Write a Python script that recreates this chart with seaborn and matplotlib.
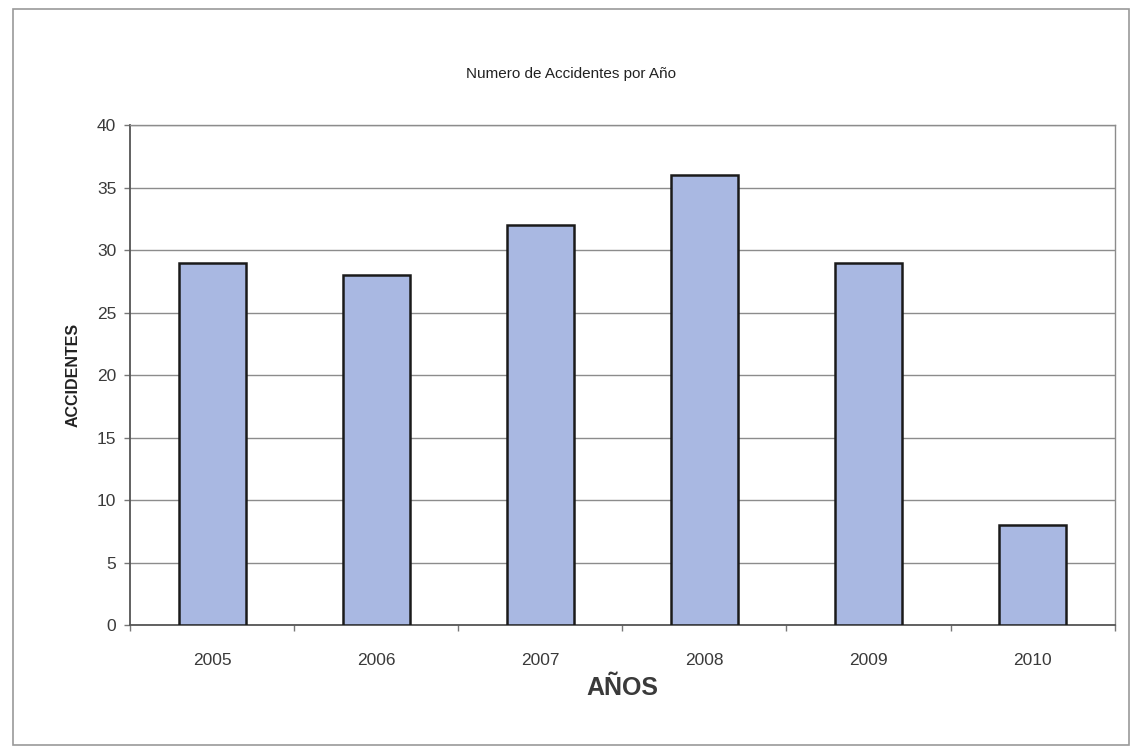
import pandas as pd
import seaborn as sns
import matplotlib.pyplot as plt
from matplotlib.patches import Rectangle

# Data
years = ['2005', '2006', '2007', '2008', '2009', '2010']
accidents = [29, 28, 32, 36, 29, 8]

df = pd.DataFrame({'year': years, 'accidents': accidents})

sns.set_style("white")
plt.rcParams['font.family'] = ['Liberation Sans', 'DejaVu Sans']

fig = plt.figure(figsize=(11.42, 7.54), dpi=100)
ax = fig.add_axes([0.114, 0.171, 0.862, 0.663])

# Outer frame around the whole chart
fig.patches.append(Rectangle((0.011, 0.012), 0.978, 0.976,
                             transform=fig.transFigure, fill=False,
                             edgecolor='#9a9a9a', linewidth=1.2))

sns.barplot(data=df, x='year', y='accidents', color='#A9B8E2',
            saturation=1, width=0.41, edgecolor='#1a1a1a',
            linewidth=1.8, ax=ax, zorder=3)

ax.set_ylim(0, 40)
ax.set_yticks(range(0, 41, 5))
ax.yaxis.grid(True, color='#8c8c8c', linewidth=1)
ax.set_axisbelow(True)
for side in ['top', 'right']:
    ax.spines[side].set_color('#8c8c8c')
    ax.spines[side].set_linewidth(1)
for side in ['left', 'bottom']:
    ax.spines[side].set_color('#555555')
    ax.spines[side].set_linewidth(1.3)

ax.set_xlim(-0.5, 5.5)
# Category-boundary tick marks, labels centred under bars
ax.set_xticks([i + 0.5 for i in range(-1, len(years))], minor=True)
ax.tick_params(axis='x', which='both', bottom=True)
ax.tick_params(axis='y', which='both', left=True)
ax.tick_params(axis='x', which='major', length=0, pad=20,
               labelsize=12.5, labelcolor='#3a3a3a')
ax.tick_params(axis='x', which='minor', length=4, width=1,
               color='#777777', direction='out')
ax.tick_params(axis='y', labelsize=12.5, labelcolor='#3a3a3a',
               length=4, width=1, color='#777777', direction='out', pad=6)

ax.set_xlabel('AÑOS', fontsize=18, fontweight='bold', color='#3a3a3a',
              labelpad=6)
ax.set_ylabel('ACCIDENTES', fontsize=11.5, fontweight='bold',
              color='#222222', labelpad=12)

fig.text(0.5, 0.902, 'Numero de Accidentes por Año', ha='center',
         va='center', fontsize=11, color='#222222')

fig.savefig('out.png', dpi=100)
